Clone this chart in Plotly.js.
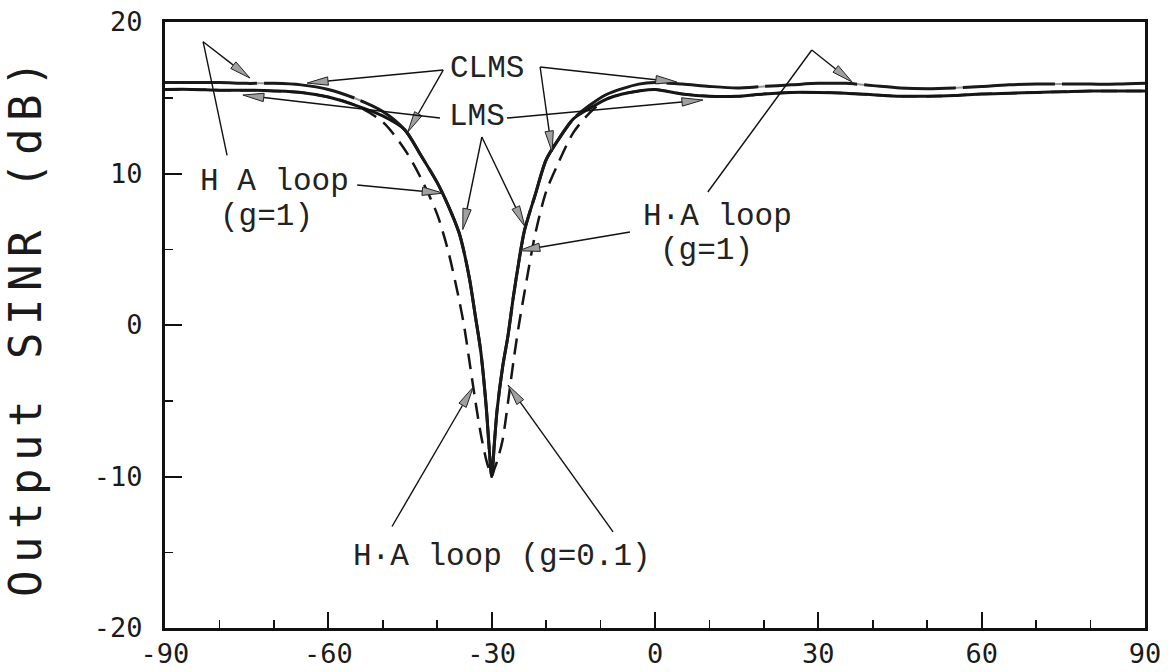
<!DOCTYPE html>
<html>
<head>
<meta charset="utf-8">
<script src="https://cdn.plot.ly/plotly-3.0.1.min.js"></script>
<style>
  html, body { margin: 0; padding: 0; background: #fff; }
  #chart { width: 1176px; height: 672px; }
  .ytitle { letter-spacing: 7.5px; }
</style>
</head>
<body>
<div id="chart"></div>
<script>
// ---- data ----
const angle = [-90,-85,-80,-75,-70,-65,-60,-55,-50,-46,-43,-40,-38,-36,-35,-34,-33,-32,-31,-30.5,-30,-29.5,-29,-28,-27,-26,-25,-24,-22,-20,-18,-15,-12,-9,-6,-3,0,5,10,15,20,25,30,35,40,45,50,55,60,65,70,75,80,85,90];

const clmsSINR = [16.0,16.0,16.0,15.95,15.95,15.85,15.55,14.95,14.1,12.9,11.2,9.4,7.9,6.1,4.7,2.9,0.6,-1.75,-5.4,-7.9,-10.0,-7.8,-5.6,-2.8,-0.7,1.9,4.2,6.2,8.6,10.9,12.1,13.6,14.5,15.2,15.6,15.9,16.0,15.9,15.75,15.65,15.75,15.85,15.95,15.95,15.8,15.65,15.6,15.65,15.75,15.85,15.9,15.9,15.9,15.9,15.95];

const lmsSINR = [15.55,15.55,15.5,15.5,15.45,15.35,15.05,14.5,13.8,12.9,11.2,9.4,7.9,6.1,4.7,2.9,0.6,-1.75,-5.4,-7.9,-10.0,-7.8,-5.6,-2.8,-0.7,1.9,4.2,6.2,8.6,10.9,12.1,13.6,14.3,14.9,15.25,15.45,15.55,15.25,15.1,15.1,15.25,15.35,15.35,15.3,15.2,15.1,15.1,15.15,15.25,15.3,15.35,15.4,15.45,15.45,15.45];

const haLoopG1SINR = [16.0,16.0,16.0,15.95,15.95,15.85,15.55,14.95,14.1,12.9,11.2,9.4,7.9,6.1,4.7,2.9,0.6,-1.75,-5.4,-7.9,-10.0,-7.8,-5.6,-2.8,-0.7,1.9,4.2,6.2,8.6,10.9,12.1,13.6,14.5,15.2,15.6,15.9,16.0,15.9,15.75,15.65,15.75,15.85,15.95,15.95,15.8,15.65,15.6,15.65,15.75,15.85,15.9,15.9,15.9,15.9,15.95];

const haLoopG01SINR = [15.55,15.55,15.5,15.5,15.45,15.35,15.05,14.5,13.4,11.6,9.7,7.3,4.9,1.7,-0.2,-2.6,-5.0,-7.2,-8.9,-9.5,-10.0,-9.5,-9.0,-7.6,-5.1,-2.4,0.0,2.1,6.0,8.8,10.5,12.7,14.0,14.9,15.25,15.45,15.55,15.25,15.1,15.1,15.25,15.35,15.35,15.3,15.2,15.1,15.1,15.15,15.25,15.3,15.35,15.4,15.45,15.45,15.45];

const xTickVals = [-90,-60,-30,0,30,60,90];
const xTickText = ['-90','-60','-30','0','30','60','90'];
const yTickVals = [-20,-10,0,10,20];
const yTickText = ['-20','-10','0','10','20'];

// text labels: [text, x, y]
const labelTexts = [
  ['CLMS', -30.9, 16.96],
  ['LMS', -32.7, 13.73],
  ['H A loop', -69.8, 9.44],
  ['(g=1)', -71.4, 7.13],
  ['H\u00b7A loop', 11.4, 7.13],
  ['(g=1)', 9.55, 4.95],
  ['H\u00b7A loop (g=0.1)', -28.1, -15.25]
];

// pointer arrows: [tailX, tailY, tipX, tipY]
const arrows = [
  [-83.0, 18.7, -74.4, 16.3],
  [-54.7, 9.24, -38.9, 8.7],
  [-38.9, 16.83, -63.9, 15.97],
  [-38.9, 16.83, -45.4, 12.74],
  [-21.1, 17.03, 4.0, 16.04],
  [-21.1, 17.03, -18.9, 11.42],
  [-39.5, 13.66, -75.7, 15.18],
  [-27.2, 13.66, 8.8, 14.85],
  [-31.8, 12.41, -35.3, 6.3],
  [-31.8, 12.41, -23.9, 6.5],
  [-4.6, 6.14, -25.0, 4.9],
  [28.8, 18.15, 36.2, 16.04],
  [-48.3, -13.3, -33.4, -4.1],
  [-7.7, -13.66, -27.0, -3.96]
];
// plain connector lines (no head): [x0, y0, x1, y1]
const connectors = [
  [-78.6, 11.2, -83.0, 18.7],
  [9.7, 8.78, 28.8, 18.15]
];

// ---- layout geometry ----
const W = 1176, H = 672;
const margin = {l: 165, r: 31, t: 22, b: 44, pad: 0};
const xRange = [-90, 90], yRange = [-20, 20];
const plotW = W - margin.l - margin.r, plotH = H - margin.t - margin.b;

function toPx(x, y) {
  return [(x - xRange[0]) / (xRange[1] - xRange[0]) * plotW,
          (yRange[1] - y) / (yRange[1] - yRange[0]) * plotH];
}
function toData(px, py) {
  return [xRange[0] + px / plotW * (xRange[1] - xRange[0]),
          yRange[1] - py / plotH * (yRange[1] - yRange[0])];
}

const headLen = 21, headHalf = 4.2;
const shapes = [];
connectors.forEach(c => {
  shapes.push({type: 'line', xref: 'x', yref: 'y', x0: c[0], y0: c[1], x1: c[2], y1: c[3],
               line: {color: '#111', width: 1.4}});
});
arrows.forEach(a => {
  const t = toPx(a[0], a[1]), p = toPx(a[2], a[3]);
  const dx = p[0] - t[0], dy = p[1] - t[1];
  const len = Math.hypot(dx, dy);
  const ux = dx / len, uy = dy / len;
  const bx = p[0] - ux * headLen, by = p[1] - uy * headLen;
  const c1 = toData(bx - uy * headHalf, by + ux * headHalf);
  const c2 = toData(bx + uy * headHalf, by - ux * headHalf);
  const base = toData(bx, by);
  shapes.push({type: 'line', xref: 'x', yref: 'y', x0: a[0], y0: a[1], x1: base[0], y1: base[1],
               line: {color: '#111', width: 1.4}});
  shapes.push({type: 'path', xref: 'x', yref: 'y',
               path: 'M' + a[2] + ',' + a[3] + 'L' + c1[0] + ',' + c1[1] + 'L' + c2[0] + ',' + c2[1] + 'Z',
               fillcolor: '#a0a0a0', line: {color: '#222', width: 1}});
});

const annotations = labelTexts.map(l => ({
  x: l[1], y: l[2], xref: 'x', yref: 'y', text: l[0], showarrow: false,
  xanchor: 'center', yanchor: 'middle',
  font: {family: 'Liberation Mono, DejaVu Sans Mono, monospace', size: 31, color: '#222'}
}));

const traces = [
  {x: angle, y: clmsSINR, name: 'CLMS', mode: 'lines',
   line: {color: '#9a9a9a', width: 2, shape: 'spline', smoothing: 0.8}},
  {x: angle, y: lmsSINR, name: 'LMS', mode: 'lines',
   line: {color: '#151515', width: 3, shape: 'spline', smoothing: 0.8}},
  {x: angle, y: haLoopG1SINR, name: 'H\u00b7A loop (g=1)', mode: 'lines',
   line: {color: '#1a1a1a', width: 3, dash: '92px,7px', shape: 'spline', smoothing: 0.8}},
  {x: angle, y: haLoopG01SINR, name: 'H\u00b7A loop (g=0.1)', mode: 'lines',
   line: {color: '#151515', width: 2.5, dash: '16px,9px', shape: 'spline', smoothing: 0.8}}
];

const tickFont = {family: 'DejaVu Sans Mono, monospace', size: 27, color: '#1a1a1a'};

const layout = {
  width: W, height: H, margin: margin,
  paper_bgcolor: '#fff', plot_bgcolor: '#fff',
  showlegend: false,
  xaxis: {
    range: xRange, tickmode: 'array', tickvals: xTickVals, ticktext: xTickText,
    ticks: 'inside', ticklen: 16, tickwidth: 2, tickcolor: '#111',
    showline: true, linewidth: 3, linecolor: '#111', mirror: true,
    showgrid: false, zeroline: false, tickfont: tickFont, ticklabelstandoff: 0,
    minor: {dtick: 10, tick0: 0, ticks: 'inside', ticklen: 8, tickwidth: 1.5, tickcolor: '#111', showgrid: false}
  },
  yaxis: {
    range: yRange, tickmode: 'array', tickvals: yTickVals, ticktext: yTickText,
    ticks: 'inside', ticklen: 17, tickwidth: 2, tickcolor: '#111',
    showline: true, linewidth: 3, linecolor: '#111', mirror: true,
    showgrid: false, zeroline: false, tickfont: tickFont, ticklabelstandoff: 14,
    minor: {dtick: 5, tick0: 0, ticks: 'inside', ticklen: 8, tickwidth: 1.5, tickcolor: '#111', showgrid: false},
    title: {text: 'Output SINR (dB)', standoff: 40,
            font: {family: 'DejaVu Sans Mono, monospace', size: 44, color: '#1a1a1a'}}
  },
  shapes: shapes,
  annotations: annotations
};

Plotly.newPlot('chart', traces, layout, {staticPlot: true, displayModeBar: false});
</script>
</body>
</html>
